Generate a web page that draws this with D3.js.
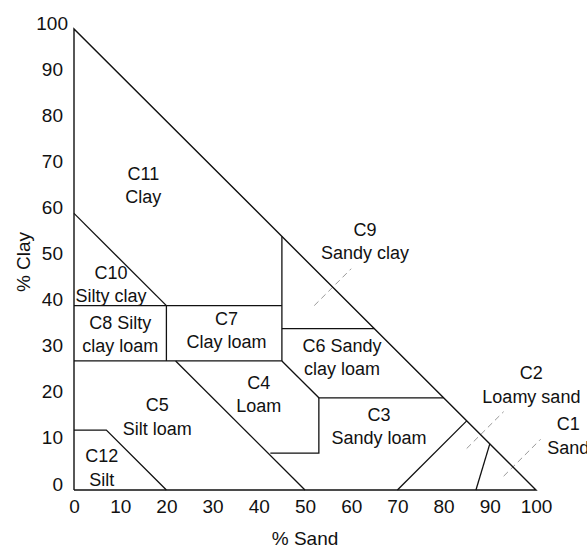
<!DOCTYPE html>
<html>
<head>
<meta charset="utf-8">
<script src="https://cdn.jsdelivr.net/npm/d3@7"></script>
<style>
  html, body { margin: 0; padding: 0; background: #fff; }
  svg { display: block; font-family: "Liberation Sans", Arial, sans-serif; }
</style>
</head>
<body>
<div id="chart"></div>
<script>
// tick labels
const sandTicks = [0, 10, 20, 30, 40, 50, 60, 70, 80, 90, 100];
const clayTicks = [0, 10, 20, 30, 40, 50, 60, 70, 80, 90, 100];

// texture class boundaries, [sand, clay] points
const outline = [[0, 0], [0, 100], [100, 0], [0, 0]];
const boundaries = [
  [[0, 60], [20, 40]],                        // C11 / C10
  [[0, 40], [45, 40]],                        // top of C8, C7
  [[45, 28], [45, 55]],                       // C7 / C9
  [[0, 28], [45, 28]],                        // bottom of C8, C7
  [[20, 28], [20, 40]],                       // C8 / C7
  [[45, 35], [65, 35]],                       // C9 / C6
  [[45, 28], [53, 20], [80, 20]],             // C6 bottom
  [[22, 28], [50, 0]],                        // C5 / C4
  [[42.5, 8], [53, 8], [53, 20]],             // C4 / C3
  [[70, 0], [85, 15]],                        // C3 / C2
  [[87, 0], [90, 10]],                        // C2 / C1
  [[0, 13], [7, 13], [20, 0]]                 // C12
];
// dashed leaders for labels outside the triangle
const leaders = [
  [[52, 40], [60, 48]],
  [[85, 9], [93, 17]],
  [[93, 3], [101, 11]]
];

// class labels and their anchors [sand, clay]
const classNames = ["C11", "C10", "C8 Silty", "C7", "C9", "C6 Sandy", "C4", "C5", "C3", "C12", "C2", "C1"];
const classDescs = ["Clay", "Silty clay", "clay loam", "Clay loam", "Sandy clay", "clay loam", "Loam", "Silt loam", "Sandy loam", "Silt", "Loamy sand", "Sand"];
const classAnchors = [
  [15, 66], [8, 44.6], [10, 33.7], [33, 34.6], [63, 53.9], [58, 28.7],
  [40, 20.7], [18, 15.8], [66, 13.8], [6, 4.8], [99, 22.8], [107, 11.7]
];

const width = 587, height = 549;
const svg = d3.select("#chart").append("svg")
  .attr("width", width).attr("height", height);

const x = d3.scaleLinear().domain([0, 100]).range([74, 536]);
const y = d3.scaleLinear().domain([0, 100]).range([490, 29]);

const line = d3.line().x(d => x(d[0])).y(d => y(d[1]));
const ink = "#111";

// axes
const xAxis = svg.append("g").attr("transform", `translate(0,${y(0)})`)
  .call(d3.axisBottom(x).tickValues(sandTicks).tickSize(0).tickPadding(10));
const yAxis = svg.append("g").attr("transform", `translate(${x(0)},0)`)
  .call(d3.axisLeft(y).tickValues(clayTicks).tickSize(0).tickPadding(11));
[xAxis, yAxis].forEach(g => {
  g.select(".domain").remove();
  g.selectAll("text").attr("font-size", 19).attr("fill", ink)
    .attr("font-family", "'Liberation Sans', Arial, sans-serif");
});
yAxis.selectAll("text").attr("y", -6);
yAxis.selectAll(".tick").filter(d => d === 100).select("text").attr("x", -6);

// leaders
svg.selectAll(".leader").data(leaders).join("path")
  .attr("d", line).attr("fill", "none")
  .attr("stroke", "#999").attr("stroke-width", 1).attr("stroke-dasharray", "6,4");

// triangle and boundaries
svg.append("path").datum(outline).attr("d", line)
  .attr("fill", "none").attr("stroke", ink).attr("stroke-width", 1.4);
svg.selectAll(".bnd").data(boundaries).join("path")
  .attr("d", line).attr("fill", "none")
  .attr("stroke", ink).attr("stroke-width", 1.3).attr("stroke-linejoin", "miter");

// class labels
const lab = svg.selectAll(".lab").data(classNames).join("text")
  .attr("text-anchor", "middle").attr("font-size", 18).attr("fill", ink)
  .attr("x", (d, i) => x(classAnchors[i][0]))
  .attr("y", (d, i) => y(classAnchors[i][1]));
lab.append("tspan").attr("x", (d, i) => x(classAnchors[i][0])).attr("dy", "-0.32em").text(d => d);
lab.append("tspan").attr("x", (d, i) => x(classAnchors[i][0])).attr("dy", "1.3em").text((d, i) => classDescs[i]);

// axis titles
svg.append("text").attr("x", 305).attr("y", 545).attr("text-anchor", "middle")
  .attr("font-size", 19).attr("fill", ink).text("% Sand");
svg.append("text").attr("transform", "translate(30,262) rotate(-90)")
  .attr("text-anchor", "middle").attr("font-size", 19).attr("fill", ink).text("% Clay");
</script>
</body>
</html>
